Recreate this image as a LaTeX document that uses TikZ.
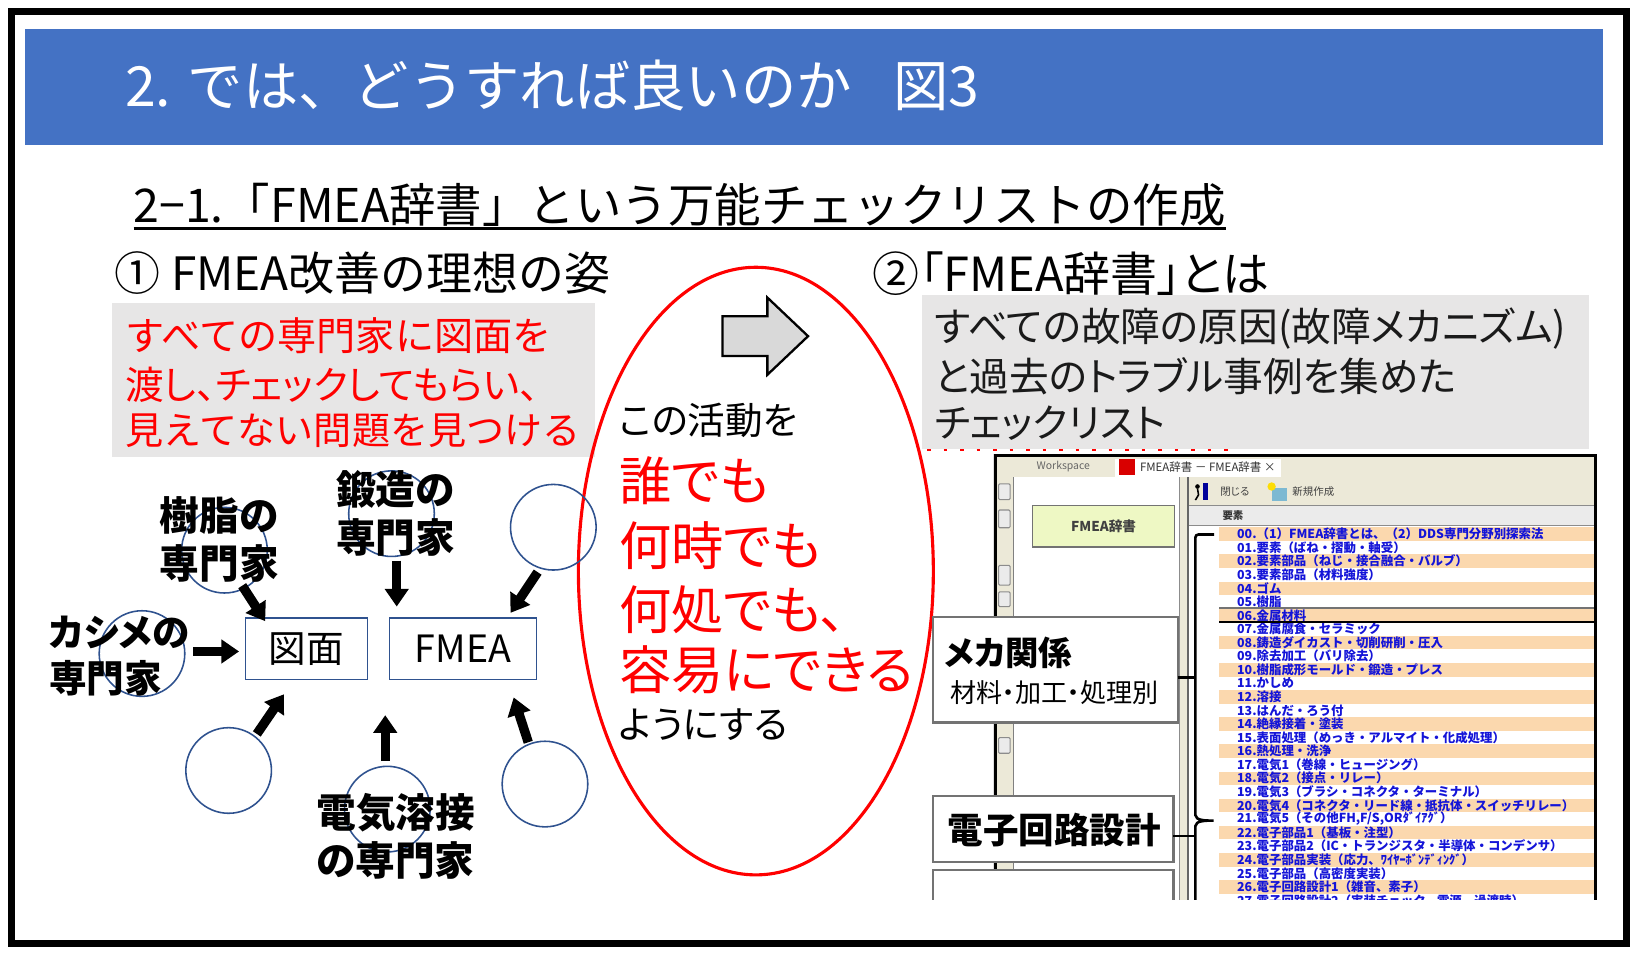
\documentclass[tikz,border=0pt]{standalone}
\usepackage{fontspec}
\setmainfont[RawFeature=+palt]{Noto Sans CJK JP}
\newfontfamily\jpfix{Noto Sans CJK JP}
\usetikzlibrary{arrows.meta,shapes.geometric,calc}
\newdimen\U \U=0.02cm
\newcommand\fsu[1]{\fontsize{\dimexpr#1\U\relax}{\dimexpr#1\U\relax}\selectfont}
\definecolor{banner}{HTML}{4472C4}
\definecolor{boxgray}{HTML}{E7E6E6}
\definecolor{shapeline}{HTML}{2F528F}
\definecolor{xpbeige}{HTML}{ECE9D8}
\definecolor{rowor}{HTML}{FBD8AE}
\definecolor{listblue}{HTML}{1414D8}
\definecolor{greenbox}{HTML}{EEF8C4}
\definecolor{arrowgray}{HTML}{D9D9D9}
\definecolor{darktxt}{HTML}{1A1A1A}
\newcommand\lrow[2]{%
  \pgfmathsetmacro\yc{511.5+13*#1}%
  \ifodd#1\relax\else\fill[rowor] (1168,\yc-6.5) rectangle (1527,\yc+6.5);\fi
  \node[listtxt] (row#1) at (1185,\yc) {#2};}
\begin{document}
\begin{tikzpicture}[x=0.02cm,y=-0.02cm,
  every node/.style={inner sep=0pt, outer sep=0pt},
  txt/.style={anchor=west},
  graybox/.style={fill=boxgray},
  expert/.style={circle, draw=shapeline, line width=1.5\U, minimum size=82\U},
  target/.style={rectangle, draw=shapeline, line width=1.5\U, font=\fsu{36}},
  fat/.style={line width=9\U, -{Triangle[length=9.6pt,width=12.5pt]}},
  lbl/.style={anchor=west, font={\bfseries\fsu{38}}},
  listtxt/.style={anchor=west, text=listblue, font={\jpfix\bfseries\fsu{11.9}}},
  capbox/.style={draw=black!55, fill=white, line width=2\U, anchor=north west},
  icon/.style={draw=black!45, fill=black!8, line width=1\U, rounded corners=0.6pt}]
\useasboundingbox (0,0) rectangle (1568,923);
\fill[white] (0,0) rectangle (1568,923);

% ---------- banner and headings
\fill[banner] (24,28) rectangle (1535,139);
\node[txt,text=white,font={\jpfix\fsu{53}}] (title) at (120,82) {2. では、どうすれば良いのか\hspace*{40\U}図3};
\node[txt,font={\jpfix\fsu{44.5}}] (subtitle) at (128,196) {2−1.「FMEA辞書」という万能チェックリストの作成};
\draw[line width=2.2\U] ([yshift=-23\U]subtitle.west) -- ([yshift=-23\U]subtitle.east);
\node[txt,font={\jpfix\fsu{44}}] (sec1) at (110,262) {① FMEA改善の理想の姿};
\node[txt,font=\fsu{45}] (sec2) at (836,262) {②「FMEA辞書」とは};

% ---------- gray boxes
\node[graybox, minimum width=463\U, minimum height=148\U] (ideal) at (338.5,364) {};
\node[txt,text=red,font={\jpfix\fsu{37.5}}] (i1) at (120,322) {すべての専門家に図面を};
\node[txt,text=red,font=\fsu{37}] (i2) at (120,369) {渡し、チェックしてもらい、};
\node[txt,text=red,font={\jpfix\fsu{36.5}}] (i3) at (120,413) {見えてない問題を見つける};

\node[graybox, minimum width=639\U, minimum height=147\U] (defbox) at (1202.5,356.5) {};
\node[txt,text=darktxt,font=\fsu{38}] (d1) at (895,315) {すべての故障の原因(故障メカニズム)};
\node[txt,text=darktxt,font=\fsu{38}] (d2) at (895,360) {と過去のトラブル事例を集めた};
\node[txt,text=darktxt,font=\fsu{37.5}] (d3) at (895,405) {チェックリスト};
\draw[red, line width=2\U, dash pattern=on 2pt off 7pt] (888,431) -- (1178,431);

% ---------- red oval with text and block arrow
\node[ellipse, draw=red, line width=3\U, minimum width=340\U, minimum height=582\U] (oval) at (724,547) {};
\draw[fill=arrowgray, line width=2.2\U, line join=miter] (692,303) -- (735,303) -- (735,285) -- (774,322) -- (735,359) -- (735,341) -- (692,341) -- cycle;
\node[txt,font=\fsu{36}] (o1) at (593,403) {この活動を};
\node[txt,text=red,font=\fsu{50}] (o2) at (593,460) {誰でも};
\node[txt,text=red,font=\fsu{50}] (o3) at (593,523) {何時でも};
\node[txt,text=red,font=\fsu{50}] (o4) at (593,584) {何処でも、};
\node[txt,text=red,font=\fsu{50}] (o5) at (593,642) {容易にできる};
\node[txt,font=\fsu{36}] (o6) at (593,694) {ようにする};

% ---------- expert diagram
\node[expert] (ckashime) at (136,626) {};
\node[expert] (cjushi) at (215,527) {};
\node[expert] (ctanzo) at (375,492) {};
\node[expert] (ctr) at (530,505) {};
\node[expert] (cbl) at (219,738) {};
\node[expert] (cdenki) at (371,775) {};
\node[expert] (cbr) at (522,751) {};

\node[target, minimum width=117\U, minimum height=59\U] (zumen) at (293.5,621.5) {図面};
\node[target, minimum width=141\U, minimum height=59\U] (fmea) at (443.5,621.5) {FMEA};

\node[lbl,font={\bfseries\fsu{36}}] (lk1) at (47,606) {カシメの};
\node[lbl,font={\bfseries\fsu{36}}] (lk2) at (47,650) {専門家};
\node[lbl] (lj1) at (153,494) {樹脂の};
\node[lbl] (lj2) at (153,540) {専門家};
\node[lbl] (lt1) at (322,469) {鍛造の};
\node[lbl] (lt2) at (322,515) {専門家};
\node[lbl] (ld1) at (303,778) {電気溶接};
\node[lbl] (ld2) at (303,824) {の専門家};

\coordinate (a1s) at (185,624);  \coordinate (a1e) at (229,624);
\coordinate (a2s) at (232,561);  \coordinate (a2e) at (254,595);
\coordinate (a3s) at (380,537);  \coordinate (a3e) at (380,581);
\coordinate (a4s) at (515,548);  \coordinate (a4e) at (489,587);
\coordinate (a5s) at (246,703);  \coordinate (a5e) at (272,665);
\coordinate (a6s) at (369,729);  \coordinate (a6e) at (369,685);
\coordinate (a7s) at (506,711);  \coordinate (a7e) at (492,668);
\draw[fat] (a1s) -- (a1e);
\draw[fat] (a2s) -- (a2e);
\draw[fat] (a3s) -- (a3e);
\draw[fat] (a4s) -- (a4e);
\draw[fat] (a5s) -- (a5e);
\draw[fat] (a6s) -- (a6e);
\draw[fat] (a7s) -- (a7e);

% ---------- screenshot of the FMEA dictionary
\begin{scope}
\clip (952,434) rectangle (1531,862);
\fill[white] (953,436) rectangle (1529,862);
\fill[xpbeige] (953,436) rectangle (1529,457);
\fill[white] (1068,440) rectangle (1227,457);
\node[txt,text=black!60,font=\fsu{10}] (tabws) at (993,447) {Workspace};
\fill[red!85!black] (1072,440) rectangle (1087,455);
\node[txt,text=black!80,font=\fsu{11}] (tabfm) at (1092,447) {FMEA辞書 － FMEA辞書 ×};
\fill[xpbeige] (953,457) rectangle (971,862);
\node[icon, minimum width=11\U, minimum height=15\U] (ic1) at (962,471) {};
\node[icon, minimum width=11\U, minimum height=17\U] (ic2) at (962,497) {};
\node[icon, minimum width=11\U, minimum height=19\U] (ic3) at (962,551) {};
\node[icon, minimum width=11\U, minimum height=14\U] (ic4) at (962,574) {};
\node[icon, minimum width=11\U, minimum height=15\U] (ic5) at (962,714) {};
\draw[black!50, line width=1.2\U] (971,457) -- (971,862);
\node[draw=black!55, fill=greenbox, line width=1.5\U, minimum width=136\U, minimum height=40\U, font={\bfseries\fsu{13}}, text=black!75] (dictbtn) at (1057,504) {FMEA辞書};
% splitter and right pane
\fill[xpbeige] (1130,457) rectangle (1138,862);
\draw[black!45, line width=1\U] (1130,457) -- (1130,862);
\draw[black!60, line width=1.5\U] (1138,457) -- (1138,862);
\fill[xpbeige] (1139,457) rectangle (1529,484);
\fill[black!8] (1139,484) rectangle (1529,503);
\draw[black!45, line width=1\U] (1139,484) -- (1529,484);
\draw[black!45, line width=1\U] (1139,503) -- (1529,503);
\fill[blue!60!black] (1152,463) rectangle (1157,479);
\fill[black] (1147,466) circle (2.2);
\draw[black, line width=1.5\U] (1147,468) -- (1148,474) -- (1145,479);
\node[txt,text=black!75,font=\fsu{10}] (closetx) at (1169,471) {閉じる};
\fill[cyan!70!black!60] (1218,467) rectangle (1233,480);
\fill[yellow!80!orange] (1218,466) circle (4);
\node[txt,text=black!75,font=\fsu{10}] (newtx) at (1238,471) {新規作成};
\node[txt,text=black!80,font={\bfseries\fsu{10}}] (hdr) at (1171,494) {要素};
\lrow{0}{00.（1）FMEA辞書とは、（2）DDS専門分野別探索法}
\lrow{1}{01.要素（ばね・摺動・軸受）}
\lrow{2}{02.要素部品（ねじ・接合融合・バルブ）}
\lrow{3}{03.要素部品（材料強度）}
\lrow{4}{04.ゴム}
\lrow{5}{05.樹脂}
\lrow{6}{06.金属材料}
\lrow{7}{07.金属腐食・セラミック}
\lrow{8}{08.鋳造ダイカスト・切削研削・圧入}
\lrow{9}{09.除去加工（バリ除去）}
\lrow{10}{10.樹脂成形モールド・鍛造・プレス}
\lrow{11}{11.かしめ}
\lrow{12}{12.溶接}
\lrow{13}{13.はんだ・ろう付}
\lrow{14}{14.絶縁接着・塗装}
\lrow{15}{15.表面処理（めっき・アルマイト・化成処理）}
\lrow{16}{16.熱処理・洗浄}
\lrow{17}{17.電気1（巻線・ヒュージング）}
\lrow{18}{18.電気2（接点・リレー）}
\lrow{19}{19.電気3（ブラシ・コネクタ・ターミナル）}
\lrow{20}{20.電気4（コネクタ・リード線・抵抗体・スイッチリレー）}
\lrow{21}{21.電気5（その他FH,F/S,ORﾀﾞｲｱｸﾞ）}
\lrow{22}{22.電子部品1（基板・注型）}
\lrow{23}{23.電子部品2（IC・トランジスタ・半導体・コンデンサ）}
\lrow{24}{24.電子部品実装（応力、ﾜｲﾔｰﾎﾞﾝﾃﾞｨﾝｸﾞ）}
\lrow{25}{25.電子部品（高密度実装）}
\lrow{26}{26.電子回路設計1（雑音、素子）}
\lrow{27}{27.電子回路設計2（実装チェック、電源、過渡時）}
\draw[black!55, line width=2\U] (1168,582.5) -- (1528,582.5);
\draw[black, line width=1.5\U] (1168,596) -- (1528,596);
% window border
\draw[black, line width=3\U] (953,862) -- (953,436.5) -- (1528.5,436.5) -- (1528.5,862);
% bracket grouping the rows
\coordinate (join1) at (1145,649);
\coordinate (join2) at (1145,801);
\draw[line width=2.5\U, rounded corners=1.6pt] (1163,512) -- (1145,512) -- (1145,778)
  to[out=-90,in=180] (1164,786) to[out=180,in=90] (1145,794) -- (1145,870);
\end{scope}

% ---------- category boxes laid over the screenshot
\node[capbox, minimum width=234\U, minimum height=101\U] (mecha) at (894,591) {};
\node[txt,font={\bfseries\fsu{32}}] (mechat) at (905,625) {メカ関係};
\node[txt,font=\fsu{25}] (mechas) at (910,663) {材料・加工・処理別};
\node[capbox, minimum width=230\U, minimum height=64\U] (denshi) at (894,762) {};
\node[txt,font={\bfseries\fsu{34}}] (denshit) at (908,795) {電子回路設計};
\begin{scope}
\clip (880,825) rectangle (1140,862);
\node[capbox, minimum width=230\U, minimum height=60\U] (soft) at (894,833) {};
\end{scope}
\draw[line width=2.2\U] (mecha.east |- join1) -- (join1);
\draw[line width=2.2\U] (denshi.east |- join2) -- (join2);

% ---------- outer frame
\draw[line width=7\U] (11,11) rectangle (1558,904);
\end{tikzpicture}
\end{document}
